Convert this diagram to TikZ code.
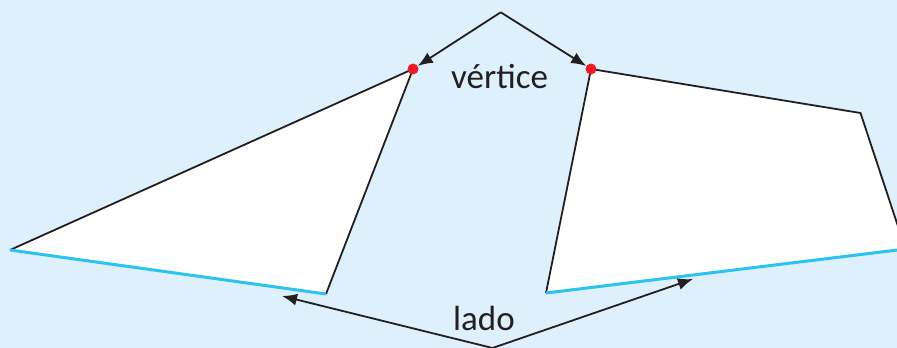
\documentclass[tikz,border=0pt]{standalone}
\usepackage{fontspec}
\setmainfont{Carlito}
\usetikzlibrary{arrows.meta,positioning}
\definecolor{bg}{HTML}{DDF0FB}
\definecolor{ink}{HTML}{231F20}
\definecolor{side}{HTML}{2CC3F0}
\definecolor{vert}{HTML}{ED1C24}
\tikzset{
  >={Latex[length=15pt,width=12pt]},
  every node/.style={text=ink},
  outline/.style={draw=ink,line width=1.8pt,line join=miter},
  sideline/.style={draw=side,line width=3pt},
  dot/.style={circle,fill=vert,inner sep=0pt,minimum size=11pt},
  arrow/.style={->,line width=1.8pt,draw=ink},
  lbl/.style={font=\fontsize{35}{42}\selectfont,inner sep=0pt,anchor=base},
}

\begin{document}
\begin{tikzpicture}[x=1pt,y=-1pt]
\useasboundingbox (0,0) rectangle (897,348);
\fill[bg] (0,0) rectangle (897,348);
\clip (0,0) rectangle (897,348);

% triangle
\coordinate (ta) at (10,250);
\coordinate (tb) at (413,69);
\coordinate (tc) at (326,294);
\fill[white] (ta) -- (tb) -- (tc) -- cycle;
\draw[outline] (ta) -- (tb) -- (tc);
\draw[sideline] (tc) -- (ta);

% quadrilateral
\coordinate (qa) at (591,69);
\coordinate (qb) at (860.5,113);
\coordinate (qc) at (905.5,249);
\coordinate (qd) at (546,293);
\fill[white] (qa) -- (qb) -- (qc) -- (qd) -- cycle;
\draw[outline] (qd) -- (qa) -- (qb) -- (qc);
\draw[sideline] (qd) -- (qc);

% vertices
\node[dot] (v1) at (tb) {};
\node[dot] (v2) at (qa) {};

% labels
\node[lbl] (vertice) at (499.5,88) {vértice};
\node[lbl] (lado) at (484,330) {lado};

% arrows
\coordinate (top) at (500.7,12.3);
\coordinate (bot) at (492.5,348);
\coordinate (s1) at (282,296);
\coordinate (s2) at (693,279);
\draw[arrow] (top) -- (v1);
\draw[arrow] (top) -- (v2);
\draw[arrow] (bot) -- (s1);
\draw[arrow] (bot) -- (s2);

\end{tikzpicture}
\end{document}
